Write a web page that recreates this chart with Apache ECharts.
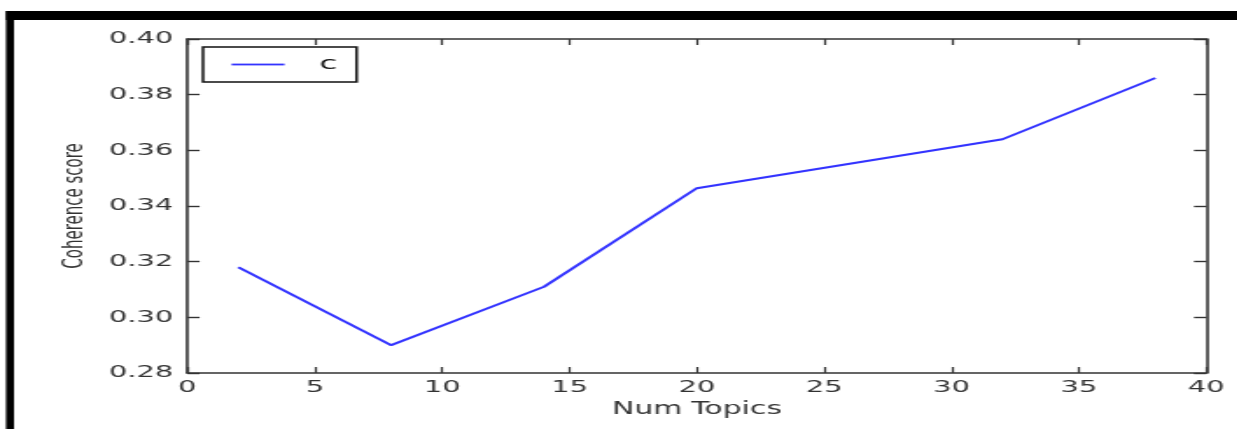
<!DOCTYPE html>
<html lang="en">
<head>
    <meta charset="UTF-8">
    <title>Coherence score</title>
    <style>
        html, body{
            margin: 0;
            padding: 0;
            background: #fff;
            overflow: hidden;
        }
        /* the source picture is a matplotlib figure stretched sideways, so draw narrow and stretch */
        #main{
            width: 707px;
            height: 429px;
            transform: scaleX(1.75);
            transform-origin: 0 0;
        }
    </style>
</head>
<body>
<div id="main"></div>
<script src="https://cdn.jsdelivr.net/npm/echarts@6/dist/echarts.min.js"></script>
<script>
    const myChart = echarts.init(document.getElementById('main'));

    /* data */
    const topics = [2, 8, 14, 20, 32, 38];
    const coherence = [0.318, 0.290, 0.311, 0.3464, 0.364, 0.386];
    const seriesName = 'c';

    /* axis ranges */
    const xMin = 0, xMax = 40, xStep = 5;
    const yMin = 0.28, yMax = 0.40, yStep = 0.02;

    const txt = '#333';
    const axisColor = '#333';
    const font = 'DejaVu Sans';
    const blue = '#3333ff';

    const points = topics.map((t, i) => [t, coherence[i]]);

    // shared look for the four frame axes
    function frameX(pos, labels){
        return {
            type: 'value', position: pos, min: xMin, max: xMax, interval: xStep,
            axisLine: {show: true, onZero: false, lineStyle: {color: axisColor, width: 1.6}},
            axisTick: {show: true, inside: true, length: 6, lineStyle: {color: axisColor, width: 1.2}},
            axisLabel: {show: labels, color: txt, fontFamily: font, fontSize: 16.5, margin: 6},
            splitLine: {show: false}
        };
    }
    function frameY(pos, labels){
        return {
            type: 'value', position: pos, min: yMin, max: yMax, interval: yStep,
            axisLine: {show: true, onZero: false, lineStyle: {color: axisColor, width: 1.6}},
            axisTick: {show: true, inside: true, length: 7, lineStyle: {color: axisColor, width: 1.4}},
            axisLabel: {
                show: labels, color: txt, fontFamily: font, fontSize: 16.5, margin: 8,
                formatter: v => v.toFixed(2)
            },
            splitLine: {show: false}
        };
    }

    const xBottom = frameX('bottom', true);
    xBottom.name = 'Num Topics';
    xBottom.nameLocation = 'middle';
    xBottom.nameGap = 25;
    xBottom.nameTextStyle = {color: txt, fontFamily: font, fontSize: 17};

    const yLeft = frameY('left', true);
    yLeft.name = 'Coherence score';
    yLeft.nameLocation = 'middle';
    yLeft.nameGap = 56;
    yLeft.nameTextStyle = {color: txt, fontFamily: font, fontSize: 15};

    const option = {
        animation: false,
        grid: {left: 107.1, right: 17.7, top: 39, bottom: 56},
        legend: {
            data: [seriesName],
            left: 116, top: 47,
            orient: 'vertical',
            padding: [8, 11, 8, 15.4],
            borderColor: '#111', borderWidth: 1.5, borderRadius: 0,
            itemWidth: 30.3, itemHeight: 18,
            itemStyle: {opacity: 0},
            lineStyle: {color: blue, width: 1.8},
            textStyle: {color: '#111', fontFamily: font, fontSize: 18.5, padding: [0, 0, 0, 15]}
        },
        xAxis: [xBottom, frameX('top', false)],
        yAxis: [yLeft, frameY('right', false)],
        series: [{
            name: seriesName,
            type: 'line',
            data: points,
            xAxisIndex: 0,
            yAxisIndex: 0,
            symbol: 'none',
            showSymbol: false,
            lineStyle: {color: blue, width: 2},
            itemStyle: {color: blue}
        }],
        // black frame around the screenshot
        graphic: [
            {type: 'rect', shape: {x: 3.4, y: 11, width: 720, height: 9}, style: {fill: '#000'}},
            {type: 'rect', shape: {x: 3.4, y: 11, width: 4.6, height: 430}, style: {fill: '#000'}}
        ]
    };

    myChart.setOption(option);
</script>
</body>
</html>
